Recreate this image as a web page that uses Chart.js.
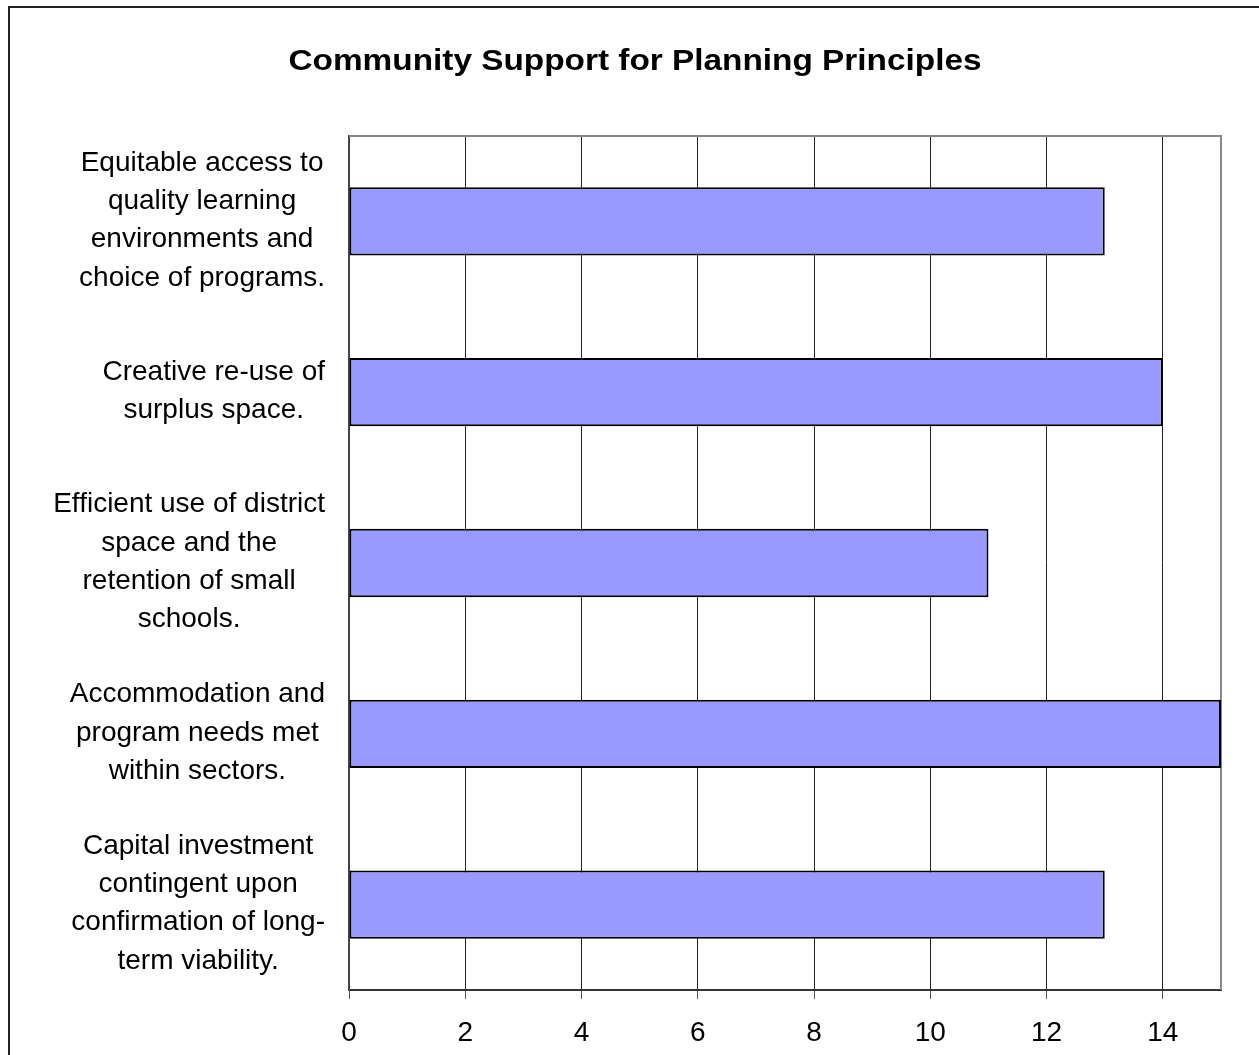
<!DOCTYPE html>
<html>
<head>
<meta charset="utf-8">
<title>Community Support for Planning Principles</title>
<script src="https://cdn.jsdelivr.net/npm/chart.js@4"></script>
<style>
  html, body { margin: 0; padding: 0; background: #fff; overflow: hidden; }
  #wrap { position: relative; width: 1259px; height: 1055px; }
</style>
</head>
<body>
<div id="wrap"><canvas id="chart"></canvas></div>
<script>
// --- data
var chartTitle = 'Community Support for Planning Principles';
var categories = [
    ['Equitable access to', 'quality learning', 'environments and', 'choice of programs.'],
    ['Creative re-use of', 'surplus space.'],
    ['Efficient use of district', 'space and the', 'retention of small', 'schools.'],
    ['Accommodation and', 'program needs met', 'within sectors.'],
    ['Capital investment', 'contingent upon', 'confirmation of long-', 'term viability.']
];
var support = [13, 14, 11, 15, 13];
var xTicks = [0, 2, 4, 6, 8, 10, 12, 14];
var xMax = 15;

var FONT = '"Liberation Sans", Arial, sans-serif';
Chart.defaults.font.family = FONT;
Chart.defaults.color = '#000';

// page frame, title, plot frame and the wrapped category labels
var framePlugin = {
    id: 'frame',
    beforeDraw: function (chart) {
        var ctx = chart.ctx;
        ctx.save();
        ctx.fillStyle = '#222';
        ctx.fillRect(8, 6, 2, chart.height);
        ctx.fillRect(8, 6, chart.width, 2);
        // title is a bit wider than plain Arial bold in the original
        ctx.translate(635, 62);
        ctx.scale(1.15, 1);
        ctx.font = 'bold 29px ' + FONT;
        ctx.fillStyle = '#000';
        ctx.textAlign = 'center';
        ctx.textBaseline = 'middle';
        ctx.fillText(chartTitle, 0, 0);
        ctx.restore();
    },
    beforeDatasetsDraw: function (chart) {
        var a = chart.chartArea, ctx = chart.ctx;
        ctx.save();
        ctx.strokeStyle = '#888';
        ctx.lineWidth = 2;
        ctx.beginPath();
        ctx.moveTo(a.left, a.top);
        ctx.lineTo(a.right, a.top);
        ctx.lineTo(a.right, a.bottom);
        ctx.stroke();
        ctx.restore();
    },
    afterDraw: function (chart) {
        var ctx = chart.ctx, y = chart.scales.y;
        ctx.save();
        ctx.font = '28px ' + FONT;
        ctx.fillStyle = '#000';
        ctx.textAlign = 'center';
        ctx.textBaseline = 'middle';
        categories.forEach(function (lines, i) {
            var cy = y.getPixelForTick(i) - 1;
            var w = Math.max.apply(null, lines.map(function (l) { return ctx.measureText(l).width; }));
            var cx = y.right - 24 - w / 2;
            lines.forEach(function (l, j) {
                ctx.fillText(l, cx, cy + (j - (lines.length - 1) / 2) * 38.3);
            });
        });
        ctx.restore();
    }
};

new Chart(document.getElementById('chart'), {
    type: 'bar',
    data: {
        labels: categories,
        datasets: [{
            data: support,
            backgroundColor: '#9999FF',
            borderColor: '#000',
            borderWidth: 2,
            borderSkipped: false,
            barPercentage: 0.4,
            categoryPercentage: 1
        }]
    },
    options: {
        indexAxis: 'y',
        responsive: true,
        maintainAspectRatio: false,
        animation: false,
        layout: { padding: { left: 0, right: 38, top: 136, bottom: 0 } },
        plugins: {
            legend: { display: false },
            tooltip: { enabled: false },
            title: { display: false }
        },
        scales: {
            x: {
                min: 0,
                max: xMax,
                afterBuildTicks: function (s) {
                    s.ticks = xTicks.map(function (v) { return { value: v }; });
                },
                afterFit: function (s) { s.height = 65; },
                grid: { color: '#222', lineWidth: 1, tickLength: 9, tickColor: '#555' },
                border: { display: true, color: '#333', width: 2 },
                ticks: { font: { size: 28 }, color: '#000', padding: 17, maxRotation: 0 }
            },
            y: {
                afterFit: function (s) { s.width = 349; },
                grid: { display: false },
                border: { display: true, color: '#444', width: 2 },
                ticks: { display: false }
            }
        }
    },
    plugins: [framePlugin]
});
</script>
</body>
</html>
